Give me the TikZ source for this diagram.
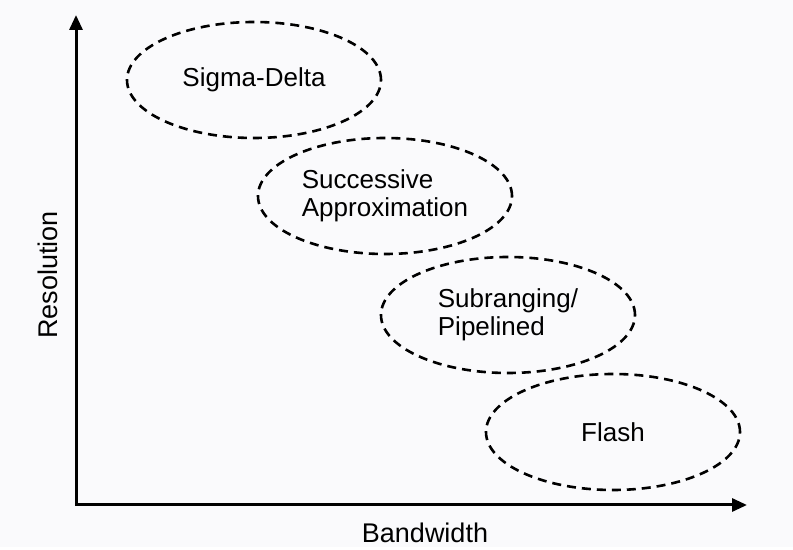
\documentclass[tikz,border=0pt]{standalone}
\usepackage{fontspec}
\setmainfont{Liberation Sans}
\usetikzlibrary{arrows.meta,shapes.geometric}
\definecolor{paper}{RGB}{250,250,252}

\begin{document}
\begin{tikzpicture}[x=0.5pt,y=-0.5pt,axis/.style={line width=1.5pt,{Triangle[length=7.5pt,width=6.5pt]}-{Triangle[length=7.5pt,width=6.5pt]}},label text/.style={font=\fontsize{13.5}{15}\selectfont},adc node/.style={ellipse,draw,line width=1.3pt,dash pattern=on 4.5pt off 3pt,minimum width=127pt,minimum height=58pt,align=left,font=\fontsize{13}{14}\selectfont}]
  \fill[paper] (0,0) rectangle (793,547);
  \coordinate (ytop) at (76,15);
  \coordinate (o) at (76,505);
  \coordinate (xend) at (747,505);
  \draw[axis] (ytop) -- (o) -- (xend);
  \node[label text,rotate=90] (res) at (48,275) {Resolution};
  \node[label text] (bw) at (425,533) {Bandwidth};

  \node[adc node] (sd) at (254,80) {Sigma-Delta};
  \node[adc node] (sar) at (385,196) {Successive\\Approximation};
  \node[adc node] (pipe) at (508,315) {Subranging/\\Pipelined};
  \node[adc node] (flash) at (613,432) {Flash};
\end{tikzpicture}
\end{document}
